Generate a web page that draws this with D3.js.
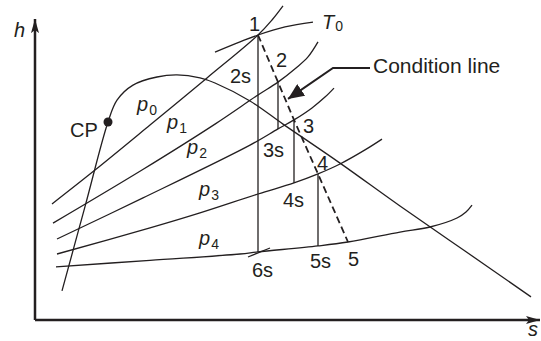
<!DOCTYPE html>
<html>
<head>
<meta charset="utf-8">
<script src="https://cdn.jsdelivr.net/npm/d3@7"></script>
<style>
  html, body { margin: 0; padding: 0; background: #fff; }
  svg { display: block; font-family: "Liberation Sans", Arial, sans-serif; }
</style>
</head>
<body>
<svg id="chart" width="541" height="341"></svg>
<script>
// Mollier (h–s) chart of a multistage expansion with its condition line.
// Entropy s and enthalpy h are in relative units (0–100).

// saturation dome: liquid line up to the critical point, then the vapour line
const saturationCurve = [[5.4, 9.7], [10, 37.8], [14.6, 66], [16.4, 73.3], [19.6, 78.3], [24.4, 81],
  [28.4, 81.7], [33, 80.7], [36, 79], [43, 73], [49.6, 65.3], [61, 52.3], [73, 38], [86, 23], [99.2, 7.7]];
const criticalPoint = [14.6, 66];

// constant-pressure lines
const isobarNames = ["p0", "p1", "p2", "p3", "p4"];
const isobarP0 = [[3.4, 38.7], [12, 50], [23, 65], [34.4, 80.7], [44.6, 95], [47.4, 100], [49.6, 104.7]];
const isobarP1 = [[3.6, 32.3], [21.4, 50], [36, 65.3], [44.6, 75], [48.6, 79.3], [52.2, 84], [54.6, 87.7], [56.6, 92.7]];
const isobarP2 = [[4.4, 27], [21.6, 40.7], [43, 58.3], [48.6, 63.7], [51.8, 66.7], [55.4, 70.7], [58, 74.3], [59.8, 77.3]];
const isobarP3 = [[4.4, 22], [23, 30.7], [33, 35.7], [44.6, 42], [51.8, 45.7], [56.6, 48.7], [61, 52], [66, 56.7], [69.4, 60.3]];
const isobarP4 = [[4.2, 17.7], [23, 19.9], [41, 22], [44.6, 22.7], [56.6, 24.7], [62.6, 26], [73, 29.3],
  [79, 31], [84.4, 34], [86.2, 36], [87.4, 38.3]];

// initial isotherm through state 1
const isothermT0 = [[36, 89.3], [41, 92.7], [44.6, 95], [50, 97.7], [55.6, 99.3]];

// actual states along the expansion (condition line)
const stateNames = ["1", "2", "3", "4", "5"];
const stateS = [44.6, 48.6, 51.8, 56.6, 62.6];
const stateH = [95, 79.3, 66.7, 48.7, 26];

// isentropic end points of each stage
const isentropicNames = ["2s", "3s", "4s", "5s", "6s"];
const isentropicS = [44.6, 48.6, 51.8, 56.6, 44.6];
const isentropicH = [75, 63.7, 45.7, 24.7, 22.7];

// vertical (isentropic) drops: [from state, to isentropic point]
const isentropicDrops = [["1", "6s"], ["2", "3s"], ["3", "4s"], ["4", "5s"]];

// short isotherm stub through 6s
const stub6s = [[42.6, 21], [47, 24]];

// leader for the "Condition line" callout
const calloutText = "Condition line";
const calloutLeader = [[67, 84], [59.6, 84], [50.6, 73.7]];

// axis extents
const sMax = 101, hMax = 100.3;

const ink = "#231f20";
const svg = d3.select("#chart");

const x = d3.scaleLinear().domain([0, 100]).range([35, 535]);
const y = d3.scaleLinear().domain([0, 100]).range([320, 20]);

const smooth = d3.line().x(d => x(d[0])).y(d => y(d[1])).curve(d3.curveCatmullRom.alpha(0.5));
const straight = d3.line().x(d => x(d[0])).y(d => y(d[1]));

// arrowheads
const defs = svg.append("defs");
defs.append("marker").attr("id", "axisHead")
  .attr("viewBox", "0 0 14 8").attr("refX", 14).attr("refY", 4)
  .attr("markerWidth", 14).attr("markerHeight", 8).attr("markerUnits", "userSpaceOnUse")
  .attr("orient", "auto")
  .append("path").attr("d", "M0,0 L14,4 L0,8 L3,4 Z").attr("fill", ink);
defs.append("marker").attr("id", "calloutHead")
  .attr("viewBox", "0 0 16 14").attr("refX", 16).attr("refY", 7)
  .attr("markerWidth", 16).attr("markerHeight", 14).attr("markerUnits", "userSpaceOnUse")
  .attr("orient", "auto")
  .append("path").attr("d", "M0,0 L16,7 L0,14 Z").attr("fill", ink);

// axes
svg.append("path").attr("d", straight([[0, 0], [sMax, 0]]))
  .attr("stroke", ink).attr("stroke-width", 2.5).attr("fill", "none").attr("marker-end", "url(#axisHead)");
svg.append("path").attr("d", straight([[0, 0], [0, hMax]]))
  .attr("stroke", ink).attr("stroke-width", 2.5).attr("fill", "none").attr("marker-end", "url(#axisHead)");

const curves = svg.append("g").attr("fill", "none").attr("stroke", ink).attr("stroke-width", 1.3);

// saturation dome
curves.append("path").attr("d", smooth(saturationCurve));

// isobars
[isobarP0, isobarP1, isobarP2, isobarP3, isobarP4].forEach(pts => {
  curves.append("path").attr("d", smooth(pts));
});

// isotherm T0
curves.append("path").attr("d", smooth(isothermT0));
curves.append("path").attr("d", straight(stub6s));

// lookup of named points
const pointOf = {};
stateNames.forEach((n, i) => pointOf[n] = [stateS[i], stateH[i]]);
isentropicNames.forEach((n, i) => pointOf[n] = [isentropicS[i], isentropicH[i]]);

// isentropic drops
isentropicDrops.forEach(([a, b]) => {
  curves.append("path").attr("d", straight([pointOf[a], pointOf[b]]));
});

// condition line through the actual states
svg.append("path")
  .attr("d", straight(stateNames.map(n => pointOf[n])))
  .attr("fill", "none").attr("stroke", ink).attr("stroke-width", 1.8)
  .attr("stroke-dasharray", "7,4");

// critical point
svg.append("circle").attr("cx", x(criticalPoint[0])).attr("cy", y(criticalPoint[1]))
  .attr("r", 4.5).attr("fill", ink);

// callout
svg.append("path").attr("d", straight(calloutLeader))
  .attr("fill", "none").attr("stroke", ink).attr("stroke-width", 2)
  .attr("marker-end", "url(#calloutHead)");

const text = svg.append("g").attr("fill", ink).attr("font-size", 20);

text.append("text").attr("x", x(calloutLeader[0][0]) + 3).attr("y", y(calloutLeader[0][1]) + 5)
  .attr("font-size", 21).text(calloutText);

text.append("text").attr("x", x(criticalPoint[0]) - 38).attr("y", y(criticalPoint[1]) + 15).text("CP");

// point labels, offset in pixels from their points
const labelOffset = {
  "1": [-9, -4], "2": [-2, -15], "3": [9, 13], "4": [-1, -4], "5": [0, 24],
  "2s": [-28, -12], "3s": [-15, 28], "4s": [-11, 24], "5s": [-8, 22], "6s": [-6, 25]
};
Object.keys(labelOffset).forEach(n => {
  const p = pointOf[n], o = labelOffset[n];
  text.append("text").attr("x", x(p[0]) + o[0]).attr("y", y(p[1]) + o[1]).text(n);
});

// isobar labels (italic p with subscript)
const isobarLabelAt = [[20.4, 69.7], [26.4, 63.7], [30.4, 55.3], [32.8, 41.3], [32.8, 25]];
isobarNames.forEach((name, i) => {
  const t = text.append("text").attr("x", x(isobarLabelAt[i][0])).attr("y", y(isobarLabelAt[i][1]));
  t.append("tspan").attr("font-style", "italic").text(name[0]);
  t.append("tspan").attr("font-size", 14).attr("dx", 1).attr("dy", 4).text(name.slice(1));
});

// isotherm label
const tT = text.append("text").attr("x", x(57.4)).attr("y", y(97));
tT.append("tspan").attr("font-style", "italic").text("T");
tT.append("tspan").attr("font-size", 14).attr("dx", 1).attr("dy", 2).text("0");

// axis titles
text.append("text").attr("x", 14).attr("y", 37).attr("font-style", "italic").text("h");
text.append("text").attr("x", 528).attr("y", 336).attr("font-style", "italic").text("s");
</script>
</body>
</html>
